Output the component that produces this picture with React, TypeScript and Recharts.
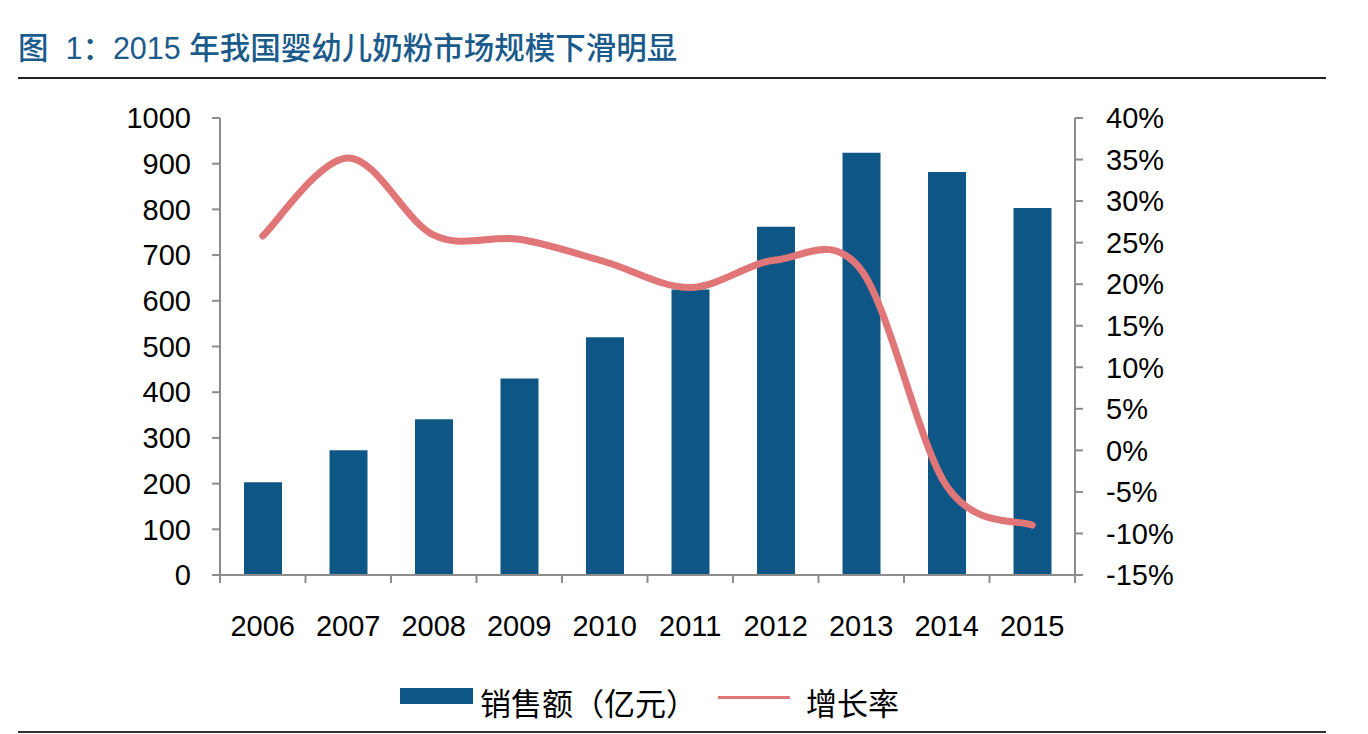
import { ComposedChart, Bar, Line, XAxis, YAxis } from 'recharts'

const years = ['2006', '2007', '2008', '2009', '2010', '2011', '2012', '2013', '2014', '2015']
const sales = [203, 273, 341, 430, 520, 625, 762, 924, 882, 803]
const growth = [25.8, 35.2, 25.9, 25.4, 22.7, 19.6, 22.9, 21.7, -4.3, -9.0]
const salesTicks = [0, 100, 200, 300, 400, 500, 600, 700, 800, 900, 1000]
const growthTicks = [-15, -10, -5, 0, 5, 10, 15, 20, 25, 30, 35, 40]

const data = years.map((year, i) => ({ year, sales: sales[i], growth: growth[i] }))

const BAR_COLOR = '#0e5686'
const LINE_COLOR = '#e07677'
const AXIS_COLOR = '#8c8c8c'
const FONT = "'Liberation Sans', Arial, 'Noto Sans CJK SC', sans-serif"
const CJK = "'Noto Sans CJK SC', 'Liberation Sans', sans-serif"

const PLOT_LEFT = 220
const PLOT_RIGHT = 1075
const PLOT_TOP = 118
const PLOT_BOTTOM = 575
const TICK = 8
const X_MARGIN = 32

// Excel-like smoothed line (Catmull-Rom through every point)
const smoothCurve = (context: any) => {
    let pts: number[][] = []
    return {
        areaStart() {},
        areaEnd() {},
        lineStart() { pts = [] },
        point(x: number, y: number) { pts.push([+x, +y]) },
        lineEnd() {
            if (!pts.length) return
            context.moveTo(pts[0][0], pts[0][1])
            for (let i = 0; i < pts.length - 1; i++) {
                const p0 = pts[i - 1] || pts[i]
                const p1 = pts[i]
                const p2 = pts[i + 1]
                const p3 = pts[i + 2] || p2
                context.bezierCurveTo(
                    p1[0] + (p2[0] - p0[0]) / 6, p1[1] + (p2[1] - p0[1]) / 6,
                    p2[0] - (p3[0] - p1[0]) / 6, p2[1] - (p3[1] - p1[1]) / 6,
                    p2[0], p2[1]
                )
            }
        },
    }
}

// category labels centred, tick marks on the category boundaries
function YearTick(props: any) {
    const { x, y, payload, index } = props
    const band = (PLOT_RIGHT - PLOT_LEFT) / years.length
    const axisY = y - TICK - X_MARGIN
    return (
        <g>
            <line x1={x - band / 2} x2={x - band / 2} y1={axisY} y2={axisY + TICK} stroke={AXIS_COLOR} strokeWidth={2} />
            {index === years.length - 1 && (
                <line x1={x + band / 2} x2={x + band / 2} y1={axisY} y2={axisY + TICK} stroke={AXIS_COLOR} strokeWidth={2} />
            )}
            <text x={x} y={y} dy="0.71em" textAnchor="middle" fill="#000" fontSize={29} fontFamily={FONT}>
                {payload.value}
            </text>
        </g>
    )
}

function App() {
    return (
        <div style={{ position: 'absolute', left: 0, top: 0, width: 1368, height: 734, background: '#fff', fontFamily: FONT }}>
            <div style={{ position: 'absolute', left: 18, top: 24, fontSize: 30.5, fontWeight: 500, color: '#1b5b8b', fontFamily: FONT, whiteSpace: 'pre' }}>
                {'图  1：2015 年我国婴幼儿奶粉市场规模下滑明显'}
            </div>
            <div style={{ position: 'absolute', left: 18, top: 77, width: 1308, height: 2, background: '#222' }} />

            <div style={{ position: 'absolute', left: 0, top: 0 }}>
                <ComposedChart
                    width={1368}
                    height={734}
                    data={data}
                    margin={{ top: PLOT_TOP, right: 0, bottom: 734 - PLOT_BOTTOM - 80, left: 0 }}
                >
                    <XAxis
                        dataKey="year"
                        height={80}
                        stroke={AXIS_COLOR}
                        axisLine={{ stroke: AXIS_COLOR, strokeWidth: 2 }}
                        tickLine={false}
                        tickSize={TICK}
                        tickMargin={X_MARGIN}
                        tick={<YearTick />}
                        interval={0}
                    />
                    <YAxis
                        yAxisId="left"
                        width={PLOT_LEFT}
                        domain={[0, 1000]}
                        ticks={salesTicks}
                        interval={0}
                        axisLine={{ stroke: AXIS_COLOR, strokeWidth: 2 }}
                        tickLine={{ stroke: AXIS_COLOR, strokeWidth: 2 }}
                        tickSize={TICK}
                        tickMargin={21}
                        tick={{ fill: '#000', fontSize: 29, fontFamily: FONT }}
                    />
                    <YAxis
                        yAxisId="right"
                        orientation="right"
                        width={1368 - PLOT_RIGHT}
                        domain={[-15, 40]}
                        ticks={growthTicks}
                        interval={0}
                        tickFormatter={(v) => `${v}%`}
                        axisLine={{ stroke: AXIS_COLOR, strokeWidth: 2 }}
                        tickLine={{ stroke: AXIS_COLOR, strokeWidth: 2 }}
                        tickSize={TICK}
                        tickMargin={23}
                        tick={{ fill: '#000', fontSize: 29, fontFamily: FONT }}
                    />
                    <Bar yAxisId="left" dataKey="sales" fill={BAR_COLOR} barSize={38} isAnimationActive={false} />
                    <Line
                        yAxisId="right"
                        dataKey="growth"
                        type={smoothCurve as any}
                        stroke={LINE_COLOR}
                        strokeWidth={7}
                        strokeLinecap="round"
                        dot={false}
                        activeDot={false}
                        isAnimationActive={false}
                    />
                </ComposedChart>
            </div>

            {/* legend */}
            <div style={{ position: 'absolute', left: 400, top: 688, width: 73, height: 16, background: BAR_COLOR }} />
            <div style={{ position: 'absolute', left: 480, top: 684, fontSize: 31, fontFamily: CJK, color: '#000', whiteSpace: 'nowrap', lineHeight: '36px' }}>
                销售额（亿元）
            </div>
            <div style={{ position: 'absolute', left: 718, top: 696, width: 72, height: 3, background: LINE_COLOR }} />
            <div style={{ position: 'absolute', left: 806, top: 684, fontSize: 31, fontFamily: CJK, color: '#000', whiteSpace: 'nowrap', lineHeight: '36px' }}>
                增长率
            </div>
            <div style={{ position: 'absolute', left: 18, top: 731, width: 1308, height: 2, background: '#333' }} />
        </div>
    )
}

export default App
